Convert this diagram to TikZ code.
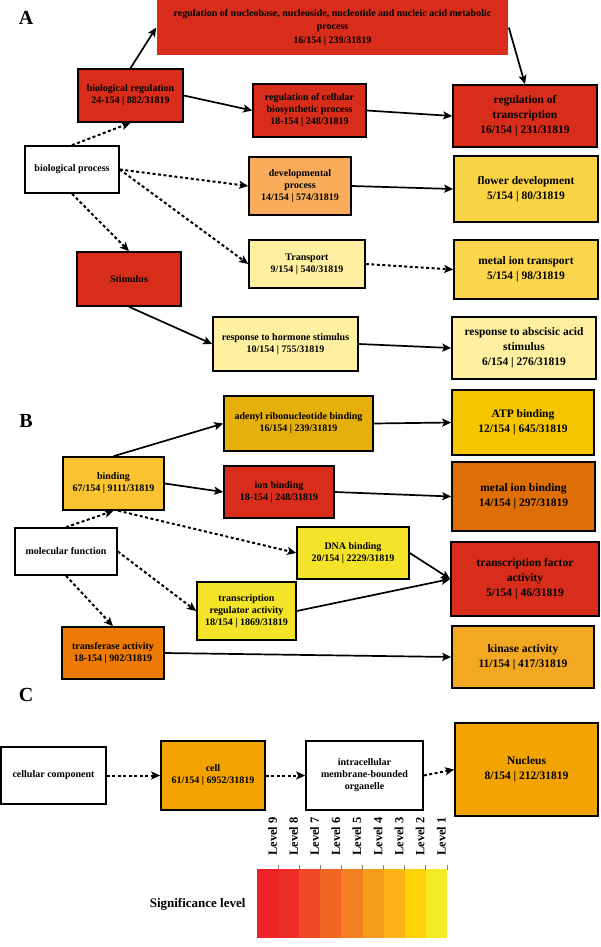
\documentclass[tikz,border=0pt]{standalone}
\usepackage{fontspec}
\setmainfont{Liberation Serif}
\usepackage{tikz}
\usetikzlibrary{arrows.meta}

\definecolor{goRed}{HTML}{D92D1B}
\definecolor{goDevel}{HTML}{F9AD5A}
\definecolor{goFlower}{HTML}{FAD445}
\definecolor{goPale}{HTML}{FEF0A0}
\definecolor{goMetal}{HTML}{FBD64D}
\definecolor{goAdenyl}{HTML}{E6B00C}
\definecolor{goATP}{HTML}{F5C600}
\definecolor{goBind}{HTML}{FAC332}
\definecolor{goMetBind}{HTML}{DE6F06}
\definecolor{goLemon}{HTML}{F3E42A}
\definecolor{goTransf}{HTML}{EC7A05}
\definecolor{goKinase}{HTML}{F2A823}
\definecolor{goCell}{HTML}{F3A300}
\definecolor{lv9}{HTML}{EC2227}
\definecolor{lv8}{HTML}{EE2D28}
\definecolor{lv7}{HTML}{EF4A25}
\definecolor{lv6}{HTML}{F26522}
\definecolor{lv5}{HTML}{F47F20}
\definecolor{lv4}{HTML}{F89C1C}
\definecolor{lv3}{HTML}{FBB316}
\definecolor{lv2}{HTML}{FFD40A}
\definecolor{lv1}{HTML}{F4EA28}

\begin{document}
\begin{tikzpicture}[
    x=1pt, y=-1pt,
    term/.style={rectangle, draw, line width=1.6pt, align=center, inner sep=2pt,
        font=\bfseries\fontsize{10}{12}\selectfont},
    bigterm/.style={term, font=\bfseries\fontsize{11.5}{15}\selectfont},
    sect/.style={font=\bfseries\fontsize{20}{20}\selectfont},
    arrow/.style={-{Stealth[length=9pt, width=8pt, inset=2pt]}, line width=1.7pt},
    isa/.style={arrow, line width=2pt, dash pattern=on 3pt off 2.5pt}
]
    \useasboundingbox (0,0) rectangle (600,947);

    % A: biological process
    \node[sect] (labA) at (26,18) {A};
    \node[term, draw=none, fill=goRed, minimum width=351, minimum height=55,
        font=\bfseries\fontsize{10}{13.5}\selectfont] (metab) at (332.5,27.5)
        {regulation of nucleobase, nucleoside, nucleotide and nucleic acid metabolic\\process\\16/154 | 239/31819};
    \node[term, fill=goRed, minimum width=105, minimum height=53] (bioreg) at (130.5,95.5)
        {biological regulation\\24-154 | 882/31819};
    \node[term, fill=goRed, minimum width=113, minimum height=53] (regcell) at (309.5,110.5)
        {regulation of cellular\\biosynthetic process\\18-154 | 248/31819};
    \node[bigterm, fill=goRed, minimum width=144, minimum height=62] (regtrans) at (525,116)
        {regulation of\\transcription\\16/154 | 231/31819};
    \node[term, fill=white, minimum width=94, minimum height=47] (bioproc) at (72,169.5)
        {biological process};
    \node[term, fill=goDevel, minimum width=102, minimum height=58] (devel) at (300,186)
        {developmental\\process\\14/154 | 574/31819};
    \node[bigterm, fill=goFlower, minimum width=144, minimum height=66] (flower) at (526,189)
        {flower development\\5/154 | 80/31819};
    \node[term, fill=goRed, minimum width=104, minimum height=54] (stim) at (129,279)
        {Stimulus};
    \node[term, fill=goPale, minimum width=116, minimum height=48] (transp) at (307,264)
        {Transport\\9/154 | 540/31819};
    \node[bigterm, fill=goMetal, minimum width=144, minimum height=59] (metaltr) at (526,269.5)
        {metal ion transport\\5/154 | 98/31819};
    \node[term, fill=goPale, minimum width=145, minimum height=54] (hormone) at (285.5,344)
        {response to hormone stimulus\\10/154 | 755/31819};
    \node[bigterm, fill=goPale, minimum width=144, minimum height=62] (absc) at (524,348)
        {response to abscisic acid\\stimulus\\6/154 | 276/31819};

    \draw[arrow] (bioreg.north) -- (metab.west);
    \draw[arrow] (bioreg.east) -- (regcell.west);
    \draw[arrow] (metab.east) -- (regtrans.north);
    \draw[arrow] (regcell.east) -- (regtrans.west);
    \draw[isa] (bioproc.north) -- (bioreg.south);
    \draw[isa] (bioproc.east) -- (devel.west);
    \draw[isa] (bioproc.east) -- (transp.west);
    \draw[isa] (bioproc.south) -- (stim.north);
    \draw[arrow] (devel.east) -- (flower.west);
    \draw[isa] (transp.east) -- (metaltr.west);
    \draw[arrow] (stim.south) -- (hormone.west);
    \draw[arrow] (hormone.east) -- (absc.west);

    % B: molecular function
    \node[sect] (labB) at (26,421) {B};
    \node[term, fill=goAdenyl, minimum width=149, minimum height=55] (adenyl) at (298.5,423.5)
        {adenyl ribonucleotide binding\\16/154 | 239/31819};
    \node[bigterm, fill=goATP, minimum width=142, minimum height=65] (atp) at (523,422.5)
        {ATP binding\\12/154 | 645/31819};
    \node[term, fill=goBind, minimum width=101, minimum height=53] (binding) at (113.5,483.5)
        {binding\\67/154 | 9111/31819};
    \node[term, fill=goRed, minimum width=110, minimum height=52] (ionbind) at (279,492)
        {ion binding\\18-154 | 248/31819};
    \node[bigterm, fill=goMetBind, minimum width=143, minimum height=69] (metbind) at (523.5,496.5)
        {metal ion binding\\14/154 | 297/31819};
    \node[term, fill=white, minimum width=102, minimum height=47] (molfun) at (66,551.5)
        {molecular function};
    \node[term, fill=goLemon, minimum width=112, minimum height=52] (dna) at (353,553)
        {DNA binding\\20/154 | 2229/31819};
    \node[term, fill=goLemon, minimum width=99, minimum height=58] (trareg) at (246.5,611)
        {transcription\\regulator activity\\18/154 | 1869/31819};
    \node[bigterm, fill=goRed, minimum width=148, minimum height=74] (tfact) at (525,579)
        {transcription factor\\activity\\5/154 | 46/31819};
    \node[term, fill=goTransf, minimum width=102, minimum height=52] (transf) at (113,653)
        {transferase activity\\18-154 | 902/31819};
    \node[bigterm, fill=goKinase, minimum width=142, minimum height=62] (kinase) at (523,657)
        {kinase activity\\11/154 | 417/31819};

    \draw[arrow] (binding.north) -- (adenyl.west);
    \draw[arrow] (adenyl.east) -- (atp.west);
    \draw[arrow] (binding.east) -- (ionbind.west);
    \draw[arrow] (ionbind.east) -- (metbind.west);
    \draw[isa] (molfun.north) -- (binding.south);
    \draw[isa] (binding.-80) -- (dna.west);
    \draw[isa] (molfun.east) -- (trareg.west);
    \draw[arrow] (dna.east) -- (tfact.west);
    \draw[arrow] (trareg.east) -- (tfact.west);
    \draw[isa] (molfun.south) -- (transf.north);
    \draw[arrow] (transf.east) -- (kinase.west);

    % C: cellular component
    \node[sect] (labC) at (26,695) {C};
    \node[term, fill=white, minimum width=105, minimum height=57] (cellcomp) at (53.5,775.5)
        {cellular component};
    \node[term, fill=goCell, minimum width=104, minimum height=69] (cell) at (213,775.5)
        {cell\\61/154 | 6952/31819};
    \node[term, fill=white, minimum width=117, minimum height=69] (intra) at (364.5,775.5)
        {intracellular\\membrane-bounded\\organelle};
    \node[bigterm, fill=goCell, minimum width=143, minimum height=93] (nucleus) at (526.5,769.5)
        {Nucleus\\8/154 | 212/31819};

    \draw[isa] (cellcomp.east) -- (cell.west);
    \draw[isa] (cell.east) -- (intra.west);
    \draw[isa] (intra.east) -- (nucleus.west);

    % significance scale
    \node[anchor=east, font=\bfseries\fontsize{13}{13}\selectfont] (sig) at (249,904) {Significance level};
    \foreach \n [count=\i from 0] in {9,8,...,1} {
        \fill[lv\n] ({257+21.1*\i},869) rectangle ({257+21.1*(\i+1)},938);
        \draw[gray, line width=0.8pt] ({257+21.1*(\i+1)},865) -- ({257+21.1*(\i+1)},870);
        \node[rotate=90, anchor=south west, inner sep=1pt,
            font=\bfseries\fontsize{12.5}{12.5}\selectfont] (lev\n) at ({257+21.1*(\i+1)},857) {Level \n};
    }
\end{tikzpicture}
\end{document}
